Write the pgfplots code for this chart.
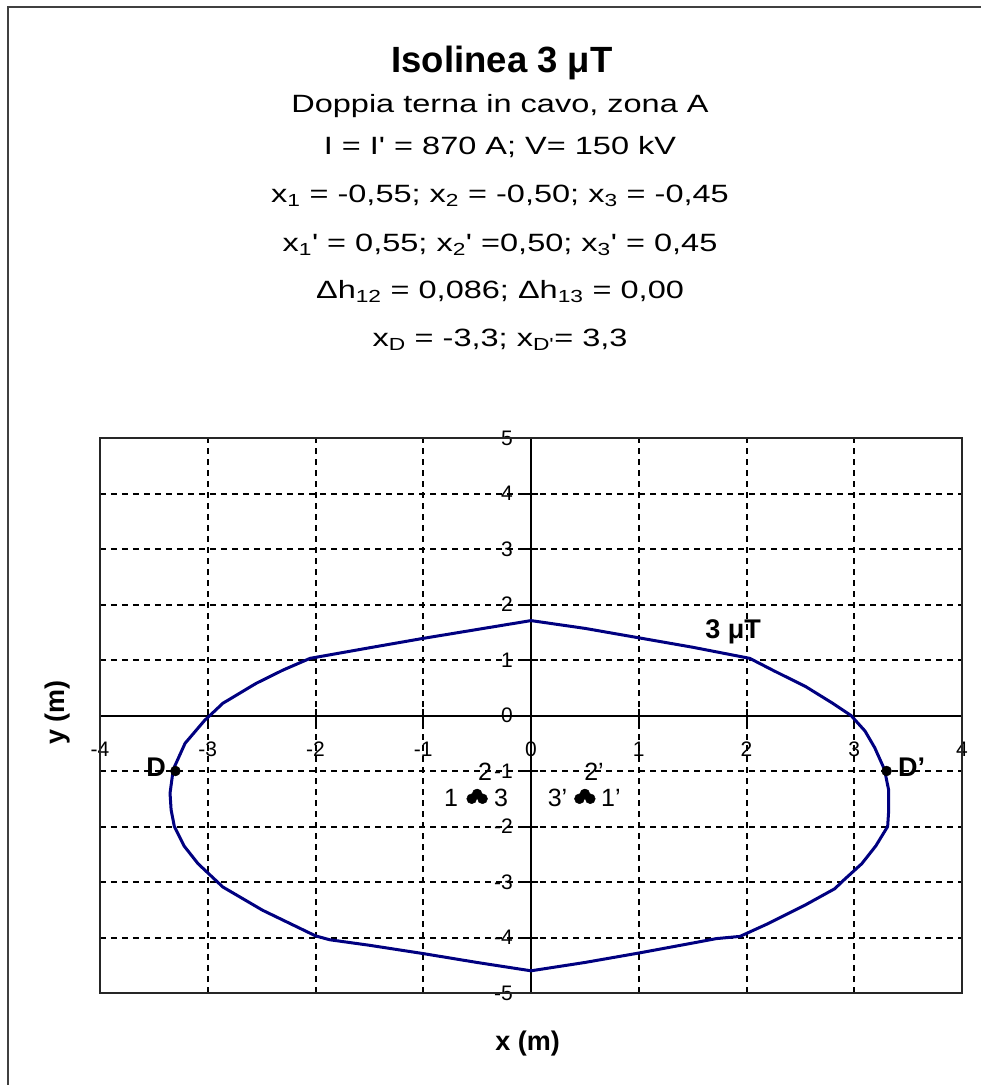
\documentclass[border=0pt]{standalone}
\usepackage{pgfplots}
\pgfplotsset{compat=1.18}
\usepackage{fontspec}
\setmainfont{Liberation Sans}
\newfontfamily\widefont{Liberation Sans}[FakeStretch=1.3]
\definecolor{isoblue}{RGB}{0,0,128}
\newcommand\tl{\fontsize{21}{24}\selectfont}

% 3 uT isoline (x, y in metres), traced clockwise from the top
\pgfplotstableread{
x y
0.00 1.71
0.50 1.57
1.00 1.40
1.50 1.23
2.03 1.03
2.25 0.81
2.55 0.52
2.80 0.22
2.97 0.00
3.10 -0.28
3.19 -0.58
3.28 -0.97
3.32 -1.35
3.32 -1.70
3.31 -2.00
3.20 -2.35
3.07 -2.67
2.90 -2.97
2.82 -3.12
2.54 -3.42
2.20 -3.75
1.94 -3.98
1.72 -4.02
1.50 -4.10
1.00 -4.28
0.50 -4.45
0.00 -4.60
-0.50 -4.45
-1.00 -4.29
-1.50 -4.14
-1.87 -4.04
-2.00 -3.97
-2.49 -3.51
-2.86 -3.09
-3.09 -2.67
-3.22 -2.35
-3.31 -2.00
-3.34 -1.70
-3.35 -1.40
-3.32 -0.97
-3.21 -0.50
-3.03 -0.09
-2.98 0.00
-2.86 0.22
-2.55 0.58
-2.30 0.82
-2.05 1.03
-1.50 1.22
-1.00 1.39
-0.50 1.55
0.00 1.71
}\isoline

% conductors of the two circuits
\pgfplotstableread{
x y
-0.55 -1.500
-0.50 -1.414
-0.45 -1.500
0.45 -1.500
0.50 -1.414
0.55 -1.500
}\cables

% points D and D'
\pgfplotstableread{
x y
-3.3 -1
3.3 -1
}\dpoints

\begin{document}
\begin{tikzpicture}
\useasboundingbox (-100pt,-92pt) rectangle (881pt,993pt);
\draw[line width=2pt, black!75] (-92pt,-120pt) -- (-92pt,986pt) -- (900pt,986pt);

\node[anchor=base] at (402pt,920pt) {\fontsize{36.5}{40}\selectfont\bfseries Isolinea 3 μT};
\begin{scope}[every node/.style={anchor=base, font=\widefont\fontsize{25}{30}\selectfont}]
\node at (400pt,880pt) {Doppia terna in cavo, zona A};
\node at (400pt,838pt) {I = I' = 870 A; V= 150 kV};
\node at (400pt,790pt) {x\textsubscript{1} = -0,55; x\textsubscript{2} = -0,50; x\textsubscript{3} = -0,45};
\node at (400pt,741pt) {x\textsubscript{1}' = 0,55; x\textsubscript{2}' =0,50; x\textsubscript{3}' = 0,45};
\node at (400pt,694pt) {Δh\textsubscript{12} = 0,086; Δh\textsubscript{13} = 0,00};
\node at (400pt,646pt) {x\textsubscript{D} = -3,3; x\textsubscript{D'}= 3,3};
\end{scope}

\begin{axis}[
  scale only axis, width=862pt, height=555pt,
  xmin=-4, xmax=4, ymin=-5, ymax=5,
  axis lines=middle,
  axis line style={line width=2pt, black, -},
  every inner x axis line/.append style={-, line width=2pt, black},
  every inner y axis line/.append style={-, line width=2pt, black},
  xtick={-4,...,4}, ytick={-5,...,5},
  xticklabels={\tl -4,\tl -3,\tl -2,\tl -1,\tl 0,\tl 1,\tl 2,\tl 3,\tl 4},
  yticklabels={\tl -5,\tl -4,\tl -3,\tl -2,\tl -1,\tl 0,\tl 1,\tl 2,\tl 3,\tl 4,\tl 5},
  extra x ticks={0}, extra x tick labels={\tl 0},
  extra y ticks={0}, extra y tick labels={\tl 0},
  extra tick style={grid=none},
  grid=major,
  major grid style={dash pattern=on 6pt off 5pt, line width=2pt, black},
  tick align=center, major tick length=14pt,
  tick style={line width=2pt, black},
  tick label style={font=\tl},
  xticklabel style={anchor=north, inner sep=0pt, yshift=-19pt},
  yticklabel style={anchor=east, inner sep=0pt, xshift=-11pt},
  xlabel={x (m)}, ylabel={y (m)},
  xlabel style={at={(rel axis cs:0.496,-0.0919)}, anchor=center, font=\fontsize{27}{30}\selectfont\bfseries},
  ylabel style={at={(rel axis cs:-0.0493,0.505)}, anchor=center, rotate=90, font=\fontsize{27}{30}\selectfont\bfseries},
  clip=false,
]
\draw[line width=2pt, black!85] (rel axis cs:0,0) rectangle (rel axis cs:1,1);
\addplot[isoblue, line width=3pt, line join=round] table[x=x, y=y] {\isoline};
\addplot[only marks, mark=*, mark size=5pt, black] table[x=x, y=y] {\cables};
\addplot[only marks, mark=*, mark size=5pt, black] table[x=x, y=y] {\dpoints};

\node[anchor=east, font=\fontsize{27}{30}\selectfont\bfseries] at (axis cs:-3.3,-1) [xshift=-6pt, yshift=4pt] {D};
\node[anchor=west, font=\fontsize{27}{30}\selectfont\bfseries] at (axis cs:3.3,-1) [xshift=8pt, yshift=4pt] {D'};
\node[font=\fontsize{27}{30}\selectfont\bfseries] at (axis cs:1.875,1.515) {3 μT};

\begin{scope}[every node/.style={font=\fontsize{25}{30}\selectfont}]
\node at (axis cs:-0.742,-1.478) {1};
\node at (axis cs:-0.427,-1.018) {2};
\node at (axis cs:-0.278,-1.478) {3};
\node at (axis cs:0.742,-1.478) {1'};
\node at (axis cs:0.585,-1.018) {2'};
\node at (axis cs:0.246,-1.478) {3'};
\end{scope}
\end{axis}
\end{tikzpicture}
\end{document}
